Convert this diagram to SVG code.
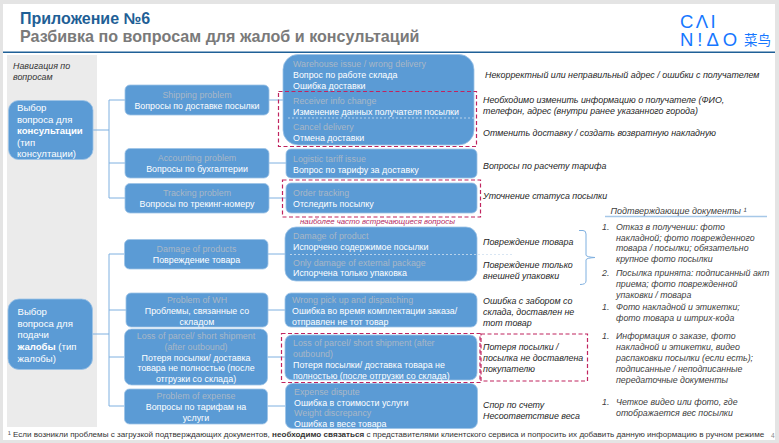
<svg xmlns="http://www.w3.org/2000/svg" width="779" height="443" viewBox="0 0 779 443">
<style>
text{font-family:"Liberation Sans",Arial,sans-serif;font-size:8.9px;fill:#fff}
.big{font-size:9.600px}
.box{fill:#5b9bd5;stroke:#9dc3e6;stroke-width:.8}
.en{fill:#a9b7c6}
.m{text-anchor:middle}
.n{font-style:italic;fill:#262626;font-size:8.9px}
.d{font-style:italic;fill:#404040;font-size:8.8px}
.conn{fill:none;stroke:#7fb0e0;stroke-width:1}
.dash{fill:none;stroke:#c0245f;stroke-width:1.2;stroke-dasharray:4 2.5}
.sep{fill:none;stroke:#cfe0f0;stroke-width:.8;stroke-dasharray:2 2}
</style>
<rect width="779" height="443" fill="#e4e4e4"/>
<rect x="3" y="4" width="772" height="436" fill="#fff"/>
<rect x="3" y="51.500" width="772" height="1.500" fill="#1f6097"/>
<rect x="7" y="55" width="90" height="372" fill="#ebebeb"/>
<text x="20" y="24" style="font-size:16px;font-weight:bold;fill:#1f5f96">Приложение №6</text>
<text x="20" y="42" style="font-size:16.100px;font-weight:bold;fill:#7a7a7a">Разбивка по вопросам для жалоб и консультаций</text>
<g id="logo">
<text x="680" y="28" style="font-size:18.500px;fill:#1677ff;letter-spacing:2.400px">CΛI</text>
<text x="680" y="45.500" style="font-size:18.500px;fill:#1677ff;letter-spacing:4px">N!ΔO</text>
<text x="744" y="45" style="font-size:13.500px;fill:#1677ff;font-family:'Noto Sans CJK SC',sans-serif">菜鸟</text>
</g>
<g id="connectors">
<path class="conn" d="M93 130H109M109 100V198M109 100H125M109 163H125M109 198H125"/>
<path class="conn" d="M92 334H109M109 254V406M109 254H124M109 310H126M109 357H124M109 406H124"/>
<path class="conn" d="M269 100H283M269 163H286M269 198H286M268 254H285M268 310H285M267 357H285M267 406H285"/>
<path d="M579 230.500H583Q586 230.500 586 234V255Q586 257 595 257.500Q586 258 586 260V281Q586 284.500 580 284.500" fill="none" stroke="#7fb0e0" stroke-width="1"/>
<path d="M605 216.500H767" stroke="#a6c8e8" stroke-width="1.500" fill="none"/>
</g>
<g id="nav"><text x="13" y="69" class="n" style="fill:#333">Навигация по</text><text x="13" y="80" class="n" style="fill:#333">вопросам</text></g>
<g id="n-consult"><rect class="box" x="8.500" y="100.500" width="84.500" height="59" rx="10"/>
<text x="17" y="111" class="big">Выбор</text><text x="17" y="122.500" class="big">вопроса для</text><text x="17" y="134" class="big" font-weight="bold">консультации</text><text x="17" y="145.500" class="big">(тип</text><text x="17" y="157" class="big">консултации)</text></g>
<g id="n-complaint"><rect class="box" x="8" y="299" width="84.500" height="70.500" rx="11"/>
<text x="17.500" y="315" class="big">Выбор</text><text x="17.500" y="326.500" class="big">вопроса для</text><text x="17.500" y="338" class="big">подачи</text><text x="17.500" y="350" class="big"><tspan font-weight="bold">жалобы</tspan> (тип</text><text x="17.500" y="361.500" class="big">жалобы)</text></g>
<g id="n-shipping"><rect class="box" x="125" y="85" width="144" height="30" rx="5"/><text x="197" y="97.500" class="m en">Shipping problem</text><text x="197" y="108.500" class="m">Вопросы по доставке посылки</text></g>
<g id="n-accounting"><rect class="box" x="125" y="148.500" width="144" height="29.500" rx="5"/><text x="197" y="161" class="m en">Accounting problem</text><text x="197" y="172" class="m">Вопросы по бухгалтерии</text></g>
<g id="n-tracking"><rect class="box" x="125" y="183.500" width="144" height="29.500" rx="5"/><text x="197" y="196" class="m en">Tracking problem</text><text x="197" y="207" class="m">Вопросы по трекинг-номеру</text></g>
<g id="n-damage"><rect class="box" x="124.500" y="239.500" width="143.500" height="29.500" rx="5"/><text x="196.500" y="252" class="m en">Damage of products</text><text x="196.500" y="263" class="m">Повреждение товара</text></g>
<g id="n-wh"><rect class="box" x="126" y="293" width="142" height="34" rx="5"/><text x="197" y="302.500" class="m en">Problem of WH</text><text x="197" y="313.500" class="m">Проблемы, связанные со</text><text x="197" y="324.500" class="m">складом</text></g>
<g id="n-loss"><rect class="box" x="124.500" y="329" width="143" height="56" rx="7"/><text x="196" y="338.500" class="m en">Loss of parcel/ short shipment</text><text x="196" y="349.500" class="m en">(after outbound)</text><text x="196" y="360.500" class="m">Потеря посылки/ доставка</text><text x="196" y="371" class="m">товара не полностью (после</text><text x="196" y="382" class="m">отгрузки со склада)</text></g>
<g id="n-expense"><rect class="box" x="124.500" y="389" width="143" height="35" rx="5"/><text x="196" y="399" class="m en">Problem of expense</text><text x="196" y="410" class="m">Вопросы по тарифам на</text><text x="196" y="421" class="m">услуги</text></g>
<g id="n-warehouse"><rect class="box" x="283" y="54.500" width="191" height="90.500" rx="15"/>
<text x="293" y="66.500" class="en">Warehouse issue / wrong delivery</text><text x="293" y="77.500">Вопрос по работе склада</text><text x="293" y="88.500">Ошибка доставки</text>
<text x="293" y="103.500" class="en">Receiver info change</text><text x="293" y="114.500">Изменение данных получателя посылки</text>
<path class="sep" d="M288 118H474"/>
<text x="293" y="129.500" class="en">Cancel delivery</text><text x="293" y="140.500">Отмена доставки</text></g>
<g id="n-logistic"><rect class="box" x="286" y="149" width="191" height="29" rx="5"/><text x="293" y="162" class="en">Logistic tariff issue</text><text x="293" y="173">Вопрос по тарифу за доставку</text></g>
<g id="n-order"><rect class="box" x="286" y="183" width="191" height="30" rx="5"/><text x="293" y="196" class="en">Order tracking</text><text x="293" y="207">Отследить посылку</text></g>
<g id="n-prod"><rect class="box" x="285" y="227" width="192" height="54" rx="11"/><text x="293" y="239" class="en">Damage of product</text><text x="293" y="250">Испорчено содержимое посылки</text><path class="sep" d="M290 254.500H514"/><text x="293" y="265.500" class="en">Only damage of external package</text><text x="293" y="276">Испорчена только упаковка</text></g>
<g id="n-pick"><rect class="box" x="285" y="293" width="192" height="34" rx="6"/><text x="292" y="302.500" class="en">Wrong pick up and dispatching</text><text x="292" y="313.500">Ошибка во время комплектации заказа/</text><text x="292" y="324.500">отправлен не тот товар</text></g>
<g id="n-loss2"><rect class="box" x="285" y="335" width="192" height="45" rx="7"/><text x="293" y="345.500" class="en">Loss of parcel/ short shipment (after</text><text x="293" y="356.500" class="en">outbound)</text><text x="293" y="367.500">Потеря посылки/ доставка товара не</text><text x="293" y="378.500">полностью (после отгрузки со склада)</text></g>
<g id="n-exp2"><rect class="box" x="285.500" y="383.500" width="192" height="45" rx="7"/><text x="294" y="394.500" class="en">Expense dispute</text><text x="294" y="405.500">Ошибка в стоимости услуги</text><text x="294" y="416" class="en">Weight discrepancy</text><text x="294" y="426.500">Ошибка в весе товара</text></g>
<g id="highlights">
<rect class="dash" x="278.500" y="91.500" width="198" height="55"/>
<rect class="dash" x="282.500" y="180" width="198" height="37"/>
<rect class="dash" x="281.500" y="333.500" width="198.500" height="49"/>
<rect class="dash" x="481" y="334" width="106.500" height="47"/>
<text x="300" y="224" style="font-size:7.800px;font-style:italic;fill:#b5285f">наиболее часто встречающиеся вопросы</text>
</g>
<g id="notes">
<text x="485" y="77.500" class="n">Некорректный или неправильный адрес / ошибки с получателем</text>
<text x="483" y="103" class="n">Необходимо изменить информацию о получателе (ФИО,</text>
<text x="483" y="114" class="n">телефон, адрес (внутри ранее указанного города)</text>
<text x="483" y="135.500" class="n">Отменить доставку / создать возвратную накладную</text>
<text x="483" y="168.500" class="n">Вопросы по расчету тарифа</text>
<text x="483" y="198.500" class="n">Уточнение статуса посылки</text>
<text x="483" y="245" class="n">Повреждение товара</text>
<text x="483" y="268" class="n">Повреждение только</text><text x="483" y="279" class="n">внешней упаковки</text>
<text x="483" y="303.500" class="n">Ошибка с забором со</text><text x="483" y="314.500" class="n">склада, доставлен не</text><text x="483" y="325.500" class="n">тот товар</text>
<text x="483" y="349.500" class="n">Потеря посылки /</text><text x="483" y="360.500" class="n">посылка не доставлена</text><text x="483" y="371.500" class="n">покупателю</text>
<text x="483" y="407.500" class="n">Спор по счету</text><text x="483" y="418.500" class="n">Несоответствие веса</text>
</g>
<g id="docs">
<text x="610.500" y="214" class="d" style="font-size:9px">Подтверждающие документы ¹</text>
<text x="602" y="229.500" class="d">1.</text><text x="616" y="229.500" class="d">Отказ в получении: фото</text><text x="616" y="240.500" class="d">накладной; фото поврежденного</text><text x="616" y="251" class="d">товара / посылки; обязательно</text><text x="616" y="261.500" class="d">крупное фото посылки</text>
<text x="602" y="276" class="d">2.</text><text x="616" y="276" class="d">Посылка принята: подписанный акт</text><text x="616" y="286.500" class="d">приема; фото поврежденной</text><text x="616" y="297.500" class="d">упаковки / товара</text>
<text x="602" y="310" class="d">1.</text><text x="616" y="310" class="d">Фото накладной и этикетки;</text><text x="616" y="321" class="d">фото товара и штрих-кода</text>
<text x="602" y="339" class="d">1.</text><text x="616" y="339" class="d">Информация о заказе, фото</text><text x="616" y="350" class="d">накладной и этикетки, видео</text><text x="616" y="361" class="d">распаковки посылки (если есть);</text><text x="616" y="372" class="d">подписанные / неподписанные</text><text x="616" y="383" class="d">передаточные документы</text>
<text x="602" y="405" class="d">1.</text><text x="616" y="405" class="d">Четкое видео или фото, где</text><text x="616" y="416" class="d">отображается вес посылки</text>
</g>
<text x="8" y="437" style="font-size:8.100px;fill:#333">¹ Если возникли проблемы с загрузкой подтверждающих документов, <tspan font-weight="bold">необходимо связаться</tspan> с представителями клиентского сервиса и попросить их добавить данную информацию в ручном режиме</text>
<text x="771" y="438" style="font-size:6.500px;fill:#888">4</text>
</svg>
